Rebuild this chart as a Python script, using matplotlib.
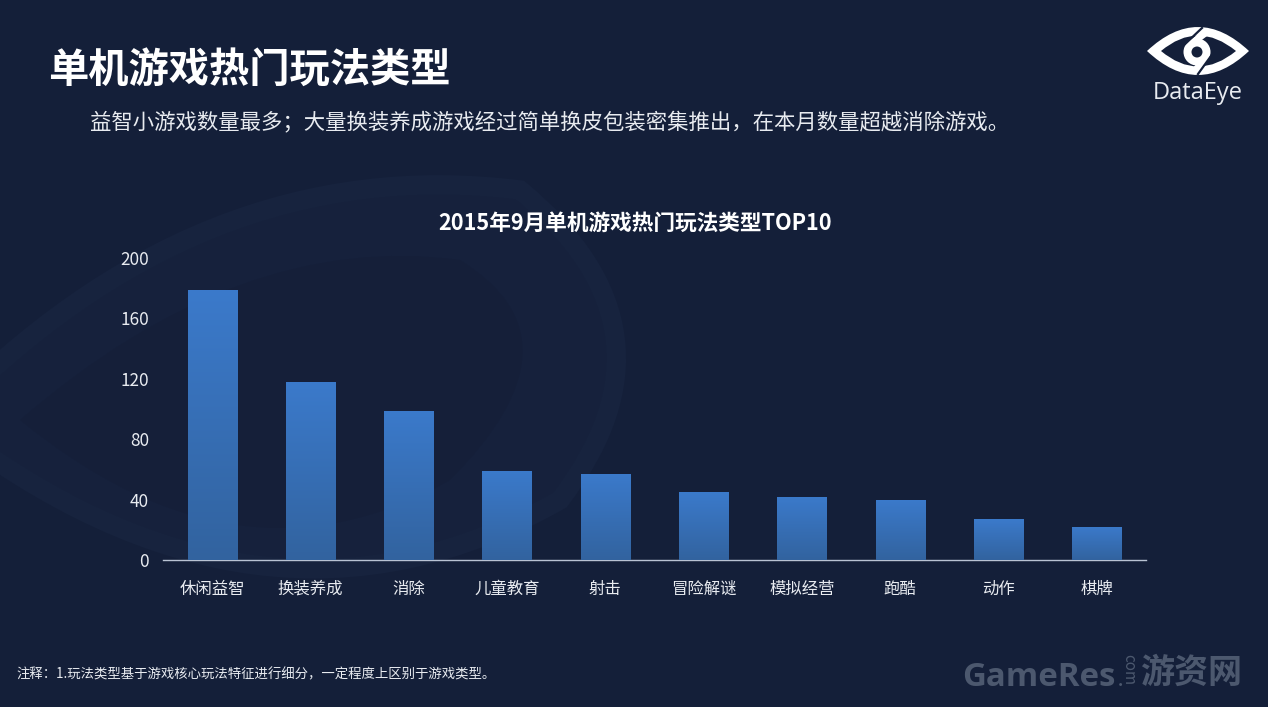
#!/usr/bin/env python
"""Single-player game genres chart, dark slide style."""
import numpy as np
import matplotlib
matplotlib.use("Agg")
import matplotlib.pyplot as plt
from matplotlib.colors import LinearSegmentedColormap
from matplotlib.patches import Circle, PathPatch
from matplotlib.path import Path

plt.rcParams["font.family"] = ["Noto Sans CJK SC", "DejaVu Sans"]

categories = ["休闲益智", "换装养成", "消除", "儿童教育", "射击",
              "冒险解谜", "模拟经营", "跑酷", "动作", "棋牌"]
counts = [179, 118, 99, 59, 57, 45, 42, 40, 27, 22]
y_ticks = [0, 40, 80, 120, 160, 200]

title = "单机游戏热门玩法类型"
subtitle = "益智小游戏数量最多；大量换装养成游戏经过简单换皮包装密集推出，在本月数量超越消除游戏。"
chart_title = "2015年9月单机游戏热门玩法类型TOP10"
note = "注释：1.玩法类型基于游戏核心玩法特征进行细分，一定程度上区别于游戏类型。"

W, H = 1268, 707
BG = "#141f39"
TEXT = "#e8ebf0"
MARK = "#4c586e"

fig = plt.figure(figsize=(W / 100, H / 100), dpi=100, facecolor=BG)

# full-figure layer in pixel coordinates, for background and logo
bg = fig.add_axes([0, 0, 1, 1], zorder=0)
bg.set_xlim(0, W)
bg.set_ylim(H, 0)
bg.axis("off")

CURVES = [Path.MOVETO, Path.CURVE3, Path.CURVE3, Path.CURVE3,
          Path.CURVE3, Path.CURVE3, Path.CURVE3]

# very faint eye watermark behind the chart
eye = Path([(-60, 420), (200, 150), (520, 190), (690, 330),
            (560, 500), (260, 670), (-60, 420)], CURVES)
bg.add_patch(PathPatch(eye, fc="#16213c", ec="#17233e", lw=14, zorder=1))
inner = Path([(20, 420), (240, 230), (460, 260), (590, 340),
              (450, 480), (240, 600), (20, 420)], CURVES)
bg.add_patch(PathPatch(inner, fc="#151f39", ec="none", zorder=2))

# logo: outer almond, dark inner almond, ring and S-shaped cut
outer = Path([(1147, 51), (1198, 3), (1249, 51), (1198, 99), (1147, 51)],
             [Path.MOVETO, Path.CURVE3, Path.CURVE3, Path.CURVE3, Path.CURVE3])
hollow = Path([(1161, 51), (1198, 20), (1236, 51), (1198, 82), (1161, 51)],
              [Path.MOVETO, Path.CURVE3, Path.CURVE3, Path.CURVE3, Path.CURVE3])
bg.add_patch(PathPatch(outer, fc="white", ec="none", zorder=3))
bg.add_patch(PathPatch(hollow, fc=BG, ec="none", zorder=4))
bg.plot([1208, 1188], [31, 46], color="white", lw=5, solid_capstyle="butt", zorder=5)
bg.plot([1206, 1194], [58, 72], color="white", lw=5, solid_capstyle="butt", zorder=5)
bg.add_patch(Circle((1197, 52), 13.5, fc="white", ec="none", zorder=6))
bg.add_patch(Circle((1197, 52), 5.5, fc=BG, ec="none", zorder=7))
bg.plot([1202, 1183], [28, 46], color=BG, lw=1.6, zorder=8)
bg.plot([1211, 1198], [56, 74], color=BG, lw=1.6, zorder=8)
bg.text(1198, 93, "DataEye", color=TEXT, fontsize=17, family="Open Sans",
        ha="center", va="center", zorder=6)

# slide text
bg.text(48, 70, title, color="white", fontsize=29, fontweight="bold", va="center")
bg.text(90, 123, subtitle, color=TEXT, fontsize=15.4, va="center")
bg.text(635.5, 223, chart_title, color="white", fontsize=15.6, fontweight="bold",
        ha="center", va="center")
bg.text(16, 674, note, color=TEXT, fontsize=9.65, va="center")

# watermark text
bg.text(962, 677, "GameRes", color=MARK, fontsize=23.8, fontweight="bold",
        family="Open Sans", va="center")
bg.text(1117.5, 686, ".", color=MARK, fontsize=12, fontweight="bold", va="baseline")
bg.text(1129, 670, "com", color=MARK, fontsize=11, rotation=-90,
        ha="center", va="center")
bg.text(1191, 672, "游资网", color=MARK, fontsize=24.5, fontweight="bold",
        ha="center", va="center")

# chart
ax = fig.add_axes([163 / W, 1 - 560 / H, 983 / W, 302 / H], zorder=1)
ax.patch.set_alpha(0)
x = np.arange(len(categories))
bars = ax.bar(x, counts, width=0.5, color="#3a77c6", linewidth=0, zorder=2)

# vertical gradient, same ramp on every bar, clipped to the bar
ramp = LinearSegmentedColormap.from_list("bar", ["#32639f", "#3b7acb"])
grad = np.linspace(0, 1, 256).reshape(-1, 1)
for bar, val in zip(bars, counts):
    im = ax.imshow(grad, cmap=ramp, origin="lower", aspect="auto", zorder=3,
                   extent=(bar.get_x(), bar.get_x() + bar.get_width(), 0, val))
    im.set_clip_path(bar)

ax.set_xlim(-0.5, len(categories) - 0.5)
ax.set_ylim(0, 200)
ax.set_xticks(x, categories)
ax.set_yticks(y_ticks)
ax.tick_params(axis="x", length=0, colors=TEXT, labelsize=11.8, pad=15)
ax.tick_params(axis="y", length=0, colors=TEXT, labelsize=12.4, pad=10)
for side in ("top", "right", "left"):
    ax.spines[side].set_visible(False)
ax.spines["bottom"].set_color("#b9c3d4")
ax.spines["bottom"].set_linewidth(1.0)

fig.savefig("out.png", dpi=100, facecolor=BG)
